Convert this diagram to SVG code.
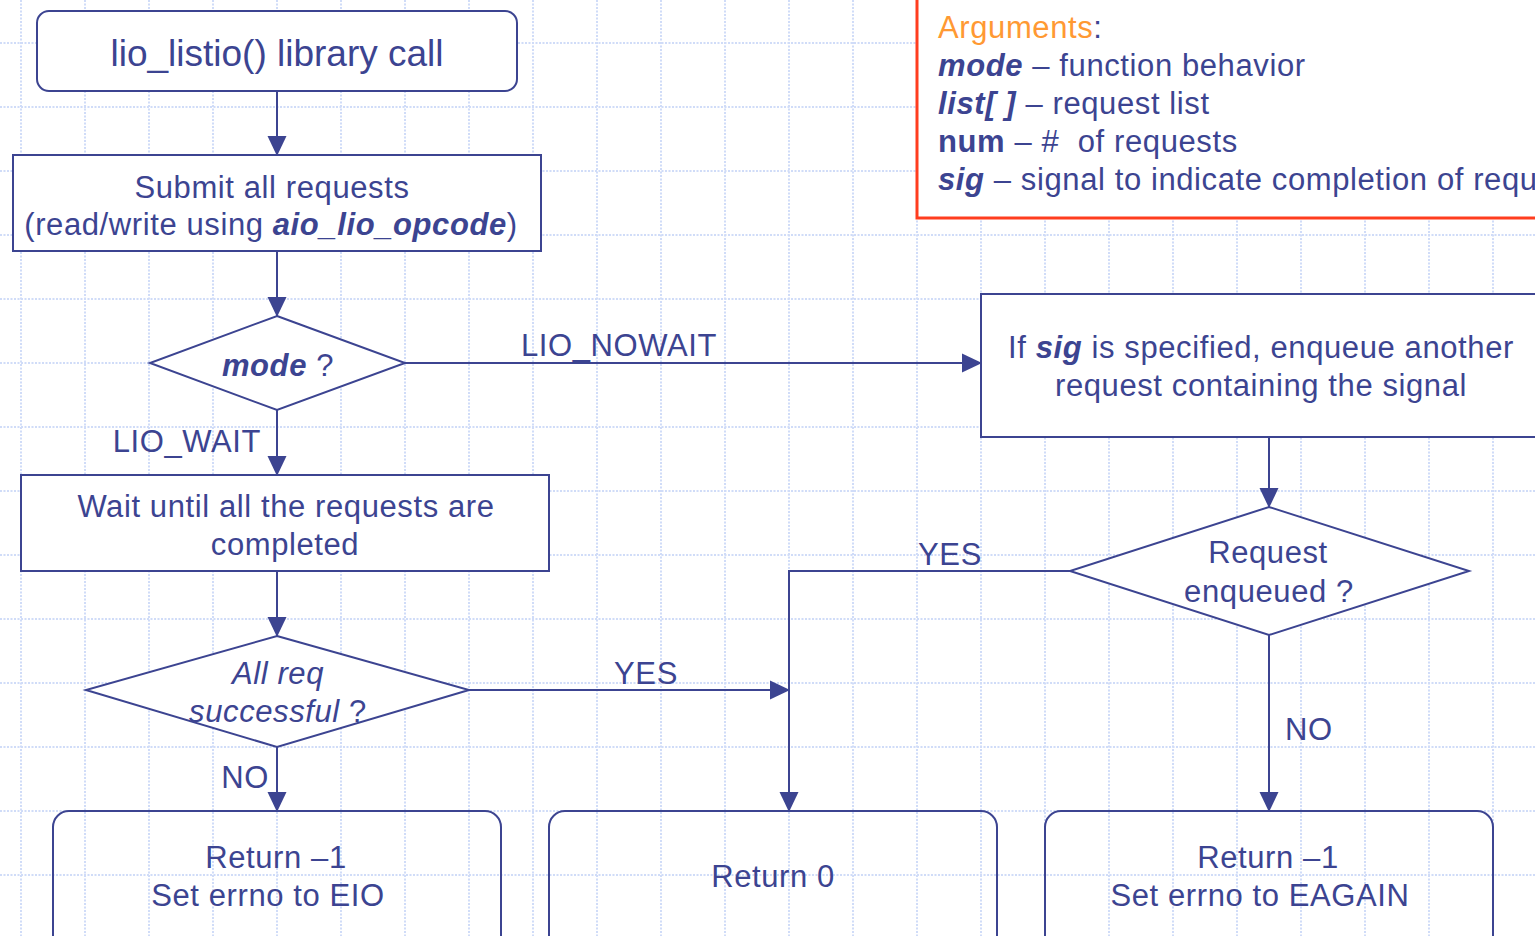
<svg xmlns="http://www.w3.org/2000/svg" width="1535" height="936" viewBox="0 0 1535 936">
  <style>
    .grid { fill: none; stroke: #d0dcf8; stroke-width: 2; stroke-dasharray: 2 1.5; }
    .box { fill: #ffffff; stroke: #3c4491; stroke-width: 2; }
    .open { fill: none; stroke: #3c4491; stroke-width: 2; }
    .conn { fill: none; stroke: #3c4491; stroke-width: 2; }
    text { font-family: "Liberation Sans", Arial, sans-serif; font-size: 31px; letter-spacing: 0.6px; fill: #3c4491; }
    .mid { text-anchor: middle; }
    .bi { font-weight: bold; font-style: italic; }
    .it { font-style: italic; }
    .b { font-weight: bold; }
    .title { font-size: 37px; letter-spacing: 0; }
    .orange { fill: #ff9933; }
  </style>
  <defs>
    <marker id="arrow" markerUnits="userSpaceOnUse" markerWidth="20" markerHeight="20" viewBox="0 0 20 19" refX="19" refY="9.5" orient="auto">
      <path d="M0,0 L20,9.5 L0,19 z" fill="#3c4491"/>
    </marker>
  </defs>

  <rect width="1535" height="936" fill="#ffffff"/>

  <!-- background grid, 64px pitch -->
  <g id="grid">
    <path class="grid" d="M0,43 H1535 M0,107 H1535 M0,171 H1535 M0,235 H1535 M0,299 H1535 M0,363 H1535 M0,427 H1535 M0,491 H1535 M0,555 H1535 M0,619 H1535 M0,683 H1535 M0,747 H1535 M0,811 H1535 M0,875 H1535"/>
    <path class="grid" d="M21,0 V936 M85,0 V936 M149,0 V936 M213,0 V936 M277,0 V936 M341,0 V936 M405,0 V936 M469,0 V936 M533,0 V936 M597,0 V936 M661,0 V936 M725,0 V936 M789,0 V936 M853,0 V936 M917,0 V936 M981,0 V936 M1045,0 V936 M1109,0 V936 M1173,0 V936 M1237,0 V936 M1301,0 V936 M1365,0 V936 M1429,0 V936 M1493,0 V936"/>
  </g>

  <!-- connectors -->
  <g id="connectors">
    <path class="conn" d="M277,91 V155" marker-end="url(#arrow)"/>
    <path class="conn" d="M277,251 V316" marker-end="url(#arrow)"/>
    <path class="conn" d="M405,363 H981" marker-end="url(#arrow)"/>
    <path class="conn" d="M277,410 V475" marker-end="url(#arrow)"/>
    <path class="conn" d="M277,571 V636" marker-end="url(#arrow)"/>
    <path class="conn" d="M469,690 H789" marker-end="url(#arrow)"/>
    <path class="conn" d="M277,747 V811" marker-end="url(#arrow)"/>
    <path class="conn" d="M1269,437 V507" marker-end="url(#arrow)"/>
    <path class="conn" d="M1070,571 H789 V811" marker-end="url(#arrow)"/>
    <path class="conn" d="M1269,635 V811" marker-end="url(#arrow)"/>
    <text x="521" y="356">LIO_NOWAIT</text>
    <text x="261" y="452" text-anchor="end">LIO_WAIT</text>
    <text x="646" y="684" class="mid">YES</text>
    <text x="269" y="788" text-anchor="end">NO</text>
    <text x="950" y="565" class="mid">YES</text>
    <text x="1285" y="740">NO</text>
  </g>

  <!-- argument legend -->
  <g id="arguments">
    <rect x="917" y="-10" width="640" height="228" fill="#ffffff" stroke="#ff3d1f" stroke-width="3"/>
    <text x="938" y="38"><tspan class="orange">Arguments</tspan>:</text>
    <text x="938" y="76"><tspan class="bi">mode</tspan> – function behavior</text>
    <text x="938" y="114"><tspan class="bi">list[ ]</tspan> – request list</text>
    <text x="938" y="152"><tspan class="b">num</tspan> – #&#160; of requests</text>
    <text x="938" y="190"><tspan class="bi">sig</tspan> – signal to indicate completion of requests</text>
  </g>

  <g id="call">
    <rect class="box" x="37" y="11" width="480" height="80" rx="12"/>
    <text x="277" y="66" class="mid title">lio_listio() library call</text>
  </g>

  <g id="submit">
    <rect class="box" x="13" y="155" width="528" height="96"/>
    <text x="272" y="198" class="mid">Submit all requests</text>
    <text x="271" y="235" class="mid">(read/write using <tspan class="bi">aio_lio_opcode</tspan>)</text>
  </g>

  <g id="mode">
    <path class="box" d="M277,316 L405,363 L277,410 L150,363 Z"/>
    <text x="278" y="376" class="mid"><tspan class="bi">mode</tspan> ?</text>
  </g>

  <g id="wait">
    <rect class="box" x="21" y="475" width="528" height="96"/>
    <text x="286" y="517" class="mid">Wait until all the requests are</text>
    <text x="285" y="555" class="mid">completed</text>
  </g>

  <g id="all-ok">
    <path class="box" d="M277,636 L469,690 L277,747 L86,690 Z"/>
    <text x="278" y="684" class="mid it">All req</text>
    <text x="278" y="722" class="mid"><tspan class="it">successful</tspan> ?</text>
  </g>

  <g id="enqueue-sig">
    <rect class="box" x="981" y="294" width="600" height="143"/>
    <text x="1261" y="358" class="mid">If <tspan class="bi">sig</tspan> is specified, enqueue another</text>
    <text x="1261" y="396" class="mid">request containing the signal</text>
  </g>

  <g id="enqueued">
    <path class="box" d="M1269,507 L1469,571 L1269,635 L1070,571 Z"/>
    <text x="1268" y="563" class="mid">Request</text>
    <text x="1269" y="602" class="mid">enqueued ?</text>
  </g>

  <g id="ret-eio">
    <rect class="open" x="53" y="811" width="448" height="140" rx="16"/>
    <text x="276" y="868" class="mid">Return –1</text>
    <text x="268" y="906" class="mid">Set errno to EIO</text>
  </g>

  <g id="ret-zero">
    <rect class="open" x="549" y="811" width="448" height="140" rx="16"/>
    <text x="773" y="887" class="mid">Return 0</text>
  </g>

  <g id="ret-eagain">
    <rect class="open" x="1045" y="811" width="448" height="140" rx="16"/>
    <text x="1268" y="868" class="mid">Return –1</text>
    <text x="1260" y="906" class="mid">Set errno to EAGAIN</text>
  </g>
</svg>
